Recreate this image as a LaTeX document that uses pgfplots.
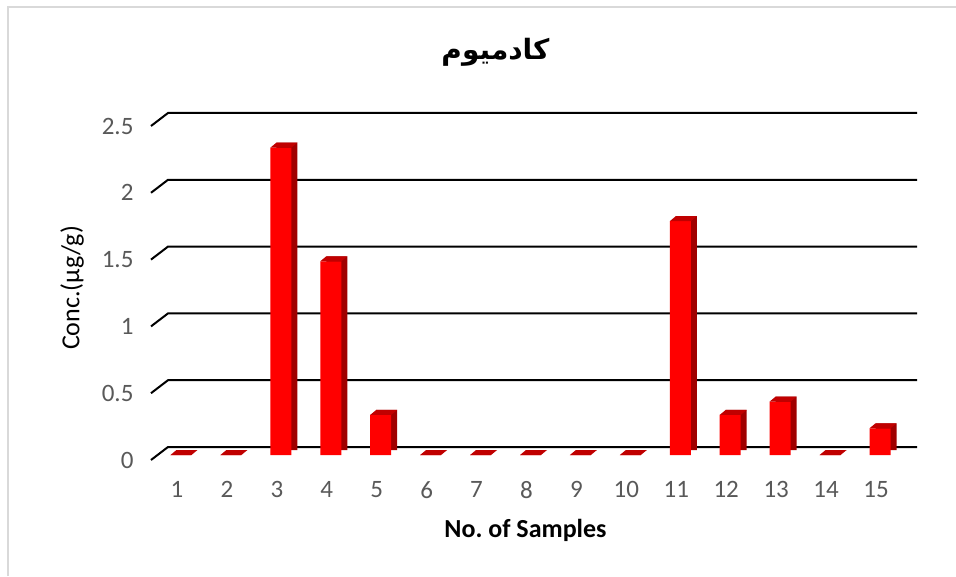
\documentclass[border=0pt]{standalone}
\usepackage{fontspec}
\setmainfont{Carlito}
\newfontfamily\arabicfont[Script=Arabic]{DejaVu Sans}
\TeXXeTstate=1
\usepackage{pgfplots}
\pgfplotsset{compat=1.18}

\definecolor{frontred}{HTML}{FF0000}
\definecolor{sidered}{HTML}{A00000}
\definecolor{topred}{HTML}{C00000}
\definecolor{ticktext}{HTML}{595959}
\definecolor{frame}{HTML}{D9D9D9}

% top face of a 3D bar, drawn at the bar top
\pgfdeclareplotmark{topface}{%
  \pgfpathmoveto{\pgfqpoint{-10.5pt}{0pt}}%
  \pgfpathlineto{\pgfqpoint{10.5pt}{0pt}}%
  \pgfpathlineto{\pgfqpoint{16.5pt}{5pt}}%
  \pgfpathlineto{\pgfqpoint{-4.5pt}{5pt}}%
  \pgfpathclose\pgfusepathqfill}

\begin{document}
\frenchspacing
\begin{tikzpicture}
\path[use as bounding box] (0,0) rectangle (956pt,576pt);
\draw[frame, line width=2pt] (8pt,0) -- (8pt,569pt) -- (956pt,569pt);

\begin{axis}[
    at={(156pt,121pt)}, anchor=south west,
    scale only axis, width=749pt, height=334pt,
    xmin=0.5, xmax=15.5, ymin=0, ymax=2.5,
    clip=false,
    axis line style={draw=none},
    tick style={draw=none},
    xtick={1,...,15},
    ytick={0,0.5,1,1.5,2,2.5},
    /pgf/number format/assume math mode=true,
    ticklabel style={font=\fontsize{25}{30}\selectfont, text=ticktext},
    yticklabel style={xshift=-19pt, yshift=-5pt},
    xticklabel style={xshift=-4pt, yshift=-23pt},
    title={\arabicfont\bfseries\beginR كادميوم\endR},
    title style={font=\fontsize{28}{32}\selectfont, anchor=center,
      at={([xshift=-35pt,yshift=63pt]axis description cs:0.5,1)}},
    xlabel={No. of Samples},
    xlabel style={font=\fontsize{26}{30}\selectfont\bfseries, anchor=center,
      at={([xshift=-5pt,yshift=-75pt]axis description cs:0.5,0)}},
    ylabel={Conc.(µg/g)},
    ylabel style={font=\fontsize{26}{30}\selectfont, anchor=center,
      at={([xshift=-84pt]axis description cs:0,0.5)}},
]
% grid lines of the 3D floor/back wall
\pgfplotsinvokeforeach{0,0.5,1,1.5,2,2.5}{
  \draw[black, line width=2pt]
    ([xshift=-5pt,yshift=-5pt]axis cs:0.5,#1) --
    ([xshift=12pt,yshift=8pt]axis cs:0.5,#1) --
    ([xshift=12pt,yshift=8pt]axis cs:15.5,#1);
}
% side faces
\addplot[ybar, bar width=21pt, bar shift=0pt, fill=sidered, draw=none,
         xshift=6pt, yshift=5pt]
  coordinates {(1,0) (2,0) (3,2.3) (4,1.45) (5,0.3) (6,0) (7,0) (8,0)
               (9,0) (10,0) (11,1.75) (12,0.3) (13,0.4) (14,0) (15,0.2)};
% front faces
\addplot[ybar, bar width=21pt, bar shift=0pt, fill=frontred, draw=none]
  coordinates {(1,0) (2,0) (3,2.3) (4,1.45) (5,0.3) (6,0) (7,0) (8,0)
               (9,0) (10,0) (11,1.75) (12,0.3) (13,0.4) (14,0) (15,0.2)};
% top faces
\addplot[only marks, mark=topface, color=topred]
  coordinates {(1,0) (2,0) (3,2.3) (4,1.45) (5,0.3) (6,0) (7,0) (8,0)
               (9,0) (10,0) (11,1.75) (12,0.3) (13,0.4) (14,0) (15,0.2)};
\end{axis}
\end{tikzpicture}
\end{document}
